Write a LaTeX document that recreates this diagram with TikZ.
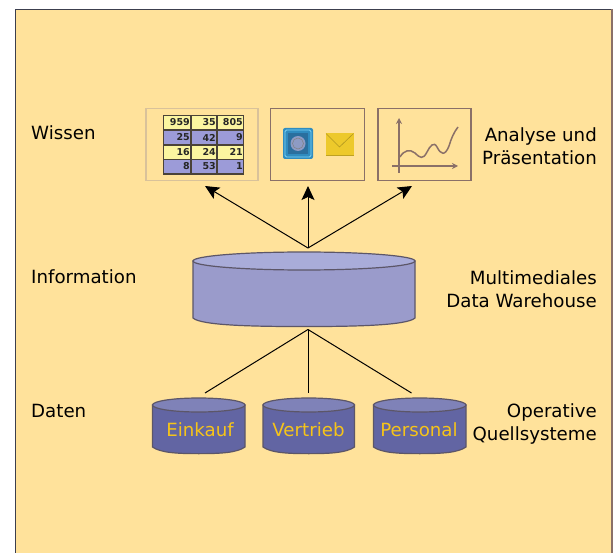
\documentclass[tikz,border=0pt]{standalone}
\usepackage{fontspec}
\setmainfont{DejaVu Sans}
\usetikzlibrary{arrows.meta}
\definecolor{bgc}{HTML}{FFE29B}
\definecolor{framec}{HTML}{3C3F4E}
\definecolor{boxc}{HTML}{8A7068}
\definecolor{boxl}{HTML}{D9C29A}
\definecolor{bigbody}{HTML}{9A9BCB}
\definecolor{bigtop}{HTML}{A9ACD9}
\definecolor{smallbody}{HTML}{6265A3}
\definecolor{smalltop}{HTML}{7F82B8}
\definecolor{cyledge}{HTML}{5C5668}
\definecolor{goldt}{HTML}{F6C419}
\definecolor{rowy}{HTML}{FBF5A0}
\definecolor{rowb}{HTML}{9C9BD8}
\definecolor{gridc}{HTML}{4A4238}
\definecolor{iconb}{HTML}{2F8CC0}
\definecolor{iconi}{HTML}{2A6F9E}
\definecolor{iconc}{HTML}{8E9BC4}
\definecolor{envy}{HTML}{EDC92B}
\tikzset{x=1pt,y=-1pt,
 lab/.style={font=\fontsize{18.2}{23}\selectfont,text=black,inner sep=0pt},
 cyltext/.style={font=\fontsize{18.2}{22}\selectfont,text=goldt,inner sep=0pt},
 iconbox/.style={draw=boxc,line width=1.6pt,fill=bgc},
 conn/.style={draw=black,line width=1pt},
 arr/.style={conn,-{Stealth[length=14pt,width=13pt,inset=3pt]}},
 tabnum/.style={font=\fontsize{9.5}{9.5}\bfseries\selectfont,text=black!85,inner sep=0pt}}
\newcommand{\dbcyl}[8]{% x1 x2 ytop(center) ry yside fillbody filltop edge
  \path[fill=#6,draw=#8,line width=1.2pt] (#1,#3) -- (#1,#5)
    .. controls (#1+8,{#5+#4*0.8}) and ({#1+(#2-#1)*0.25},{#5+#4*0.95}) .. ({(#1+#2)/2},{#5+#4*0.95})
    .. controls ({#2-(#2-#1)*0.25},{#5+#4*0.95}) and (#2-8,{#5+#4*0.8}) .. (#2,#5) -- (#2,#3) -- cycle;
  \path[fill=#7,draw=#8,line width=1.2pt] ({(#1+#2)/2},#3) ellipse [x radius={(#2-#1)/2},y radius=#4];
}
\begin{document}
\begin{tikzpicture}
\useasboundingbox (0,0) rectangle (613,553);
\fill[white] (0,0) rectangle (613,553);
\fill[bgc] (15.5,9.5) rectangle (613,553);
\draw[framec,line width=1.2pt] (15.5,553) -- (15.5,9.5) -- (611,9.5);
\draw[boxc,line width=1.2pt] (612,9.5) -- (612,553);

% icon boxes
\node[draw=boxl,line width=1.4pt,minimum width=112pt,minimum height=72pt,inner sep=0pt] (tab) at (202,144.5) {};
\node[iconbox,minimum width=94pt,minimum height=72pt,inner sep=0pt] (mail) at (317.5,144.5) {};
\node[iconbox,minimum width=93pt,minimum height=72pt,inner sep=0pt] (chart) at (424.5,144.5) {};

% table
\fill[rowy] (163.5,115.5) rectangle (243.5,130);
\fill[rowb] (163.5,130) rectangle (243.5,145);
\fill[rowy] (163.5,145) rectangle (243.5,159.5);
\fill[rowb] (163.5,159.5) rectangle (243.5,174);
\draw[gridc,line width=1.3pt] (163.5,115.5) rectangle (243.5,174);
\draw[gridc,line width=1.1pt] (163.5,130) -- (243.5,130) (163.5,145) -- (243.5,145) (163.5,159.5) -- (243.5,159.5)
  (191,115.5) -- (191,174) (217,115.5) -- (217,174);
\node[tabnum,anchor=east] (t11) at (190,122.5) {959};
\node[tabnum,anchor=east] (t12) at (216,122.5) {35};
\node[tabnum,anchor=east] (t13) at (243,122.5) {805};
\node[tabnum,anchor=east] (t21) at (190,137.5) {25};
\node[tabnum,anchor=east] (t22) at (216,137.5) {42};
\node[tabnum,anchor=east] (t23) at (243,137.5) {9};
\node[tabnum,anchor=east] (t31) at (190,152) {16};
\node[tabnum,anchor=east] (t32) at (216,152) {24};
\node[tabnum,anchor=east] (t33) at (243,152) {21};
\node[tabnum,anchor=east] (t41) at (190,166.5) {8};
\node[tabnum,anchor=east] (t42) at (216,166.5) {53};
\node[tabnum,anchor=east] (t43) at (243,166.5) {1};

% mail icons
\fill[iconb,rounded corners=2pt] (283,128) rectangle (313,159);
\draw[cyan!50!white,line width=0.8pt,rounded corners=1.5pt] (285,130) rectangle (311,157);
\fill[iconi] (288,133) rectangle (308,154);
\fill[iconc] (298,143.5) circle (7.5);
\draw[black!50,line width=0.5pt] (298,143.5) circle (5.5);
\fill[envy] (326,133) rectangle (353.5,155);
\draw[black!25!envy,line width=0.6pt] (326,133.5) -- (339.5,147) -- (353.5,133.5);
\draw[black!20!envy,line width=0.8pt] (326,155) -- (353.5,155);

% chart
\draw[boxc,line width=1.3pt,-{Stealth[length=6pt,width=6pt]}] (399,173) -- (399,118);
\draw[boxc,line width=1.3pt,-{Stealth[length=6pt,width=6pt]}] (392,166) -- (458,166);
\draw[boxc,line width=1.5pt] (400,157) .. controls (404,150) and (410,149) .. (415,153)
  .. controls (420,158) and (423,160) .. (427,152)
  .. controls (430,146) and (434,141) .. (437,147)
  .. controls (441,155) and (445,156) .. (449,146)
  .. controls (451,139) and (454,132) .. (458,127);

% cylinders
\dbcyl{193}{415}{261}{9}{318}{bigbody}{bigtop}{cyledge}
\dbcyl{152.5}{245}{405}{7}{447}{smallbody}{smalltop}{cyledge}
\dbcyl{263}{354.5}{405}{7}{447}{smallbody}{smalltop}{cyledge}
\dbcyl{373.5}{466}{405}{7}{447}{smallbody}{smalltop}{cyledge}

\node[cyltext] (ek) at (200,430) {Einkauf};
\node[cyltext] (vt) at (308.5,430) {Vertrieb};
\node[cyltext] (pe) at (419,430) {Personal};

% connectors
\coordinate (top) at (308,248);
\coordinate (mid) at (308,329.5);
\coordinate (a1) at (205,186);
\coordinate (a2) at (308,186);
\coordinate (a3) at (412,186);
\coordinate (b1) at (205,393);
\coordinate (b2) at (308,393);
\coordinate (b3) at (411.5,393);
\draw[arr] (top) -- (a1);
\draw[arr] (top) -- (a2);
\draw[arr] (top) -- (a3);
\draw[conn] (mid) -- (b1);
\draw[conn] (mid) -- (b2);
\draw[conn] (mid) -- (b3);

% labels
\node[lab,anchor=west] (l1) at (31,133) {Wissen};
\node[lab,anchor=west] (l2) at (31,277) {Information};
\node[lab,anchor=west] (l3) at (31,411) {Daten};
\node[lab,anchor=east,align=right] (r1) at (597,146) {Analyse und\\Präsentation};
\node[lab,anchor=east,align=right] (r2) at (597,289) {Multimediales\\Data Warehouse};
\node[lab,anchor=east,align=right] (r3) at (597,424) {Operative\\Quellsysteme};
\end{tikzpicture}
\end{document}
